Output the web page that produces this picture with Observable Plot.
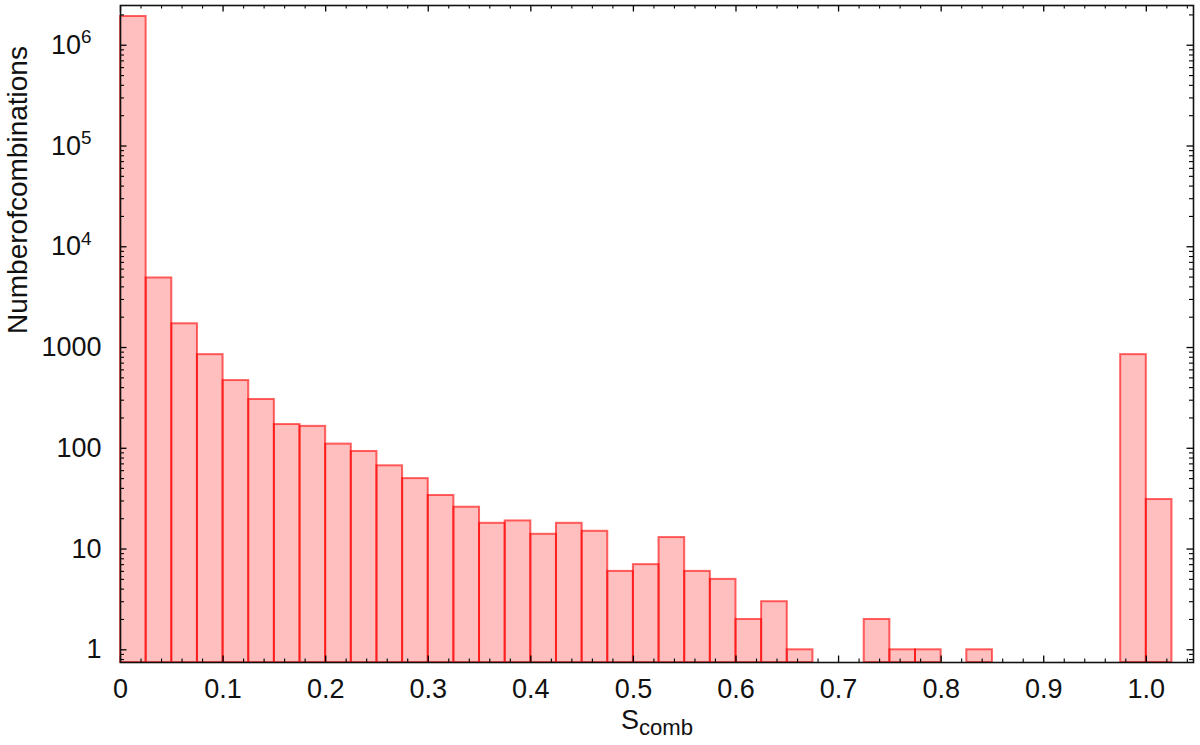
<!DOCTYPE html>
<html><head><meta charset="utf-8">
<script src="https://cdn.jsdelivr.net/npm/d3@7"></script>
<script src="https://cdn.jsdelivr.net/npm/@observablehq/plot@0.6"></script>
<style>
html,body{margin:0;padding:0;background:#fff;}
#chart{width:1200px;height:745px;}
</style></head><body><div id="chart"></div>
<script>
// Histogram bins (lower edges) with non-zero counts
const binStart = [0, 0.025, 0.05, 0.075, 0.1, 0.125, 0.15, 0.175, 0.2, 0.225,
  0.25, 0.275, 0.3, 0.325, 0.35, 0.375, 0.4, 0.425, 0.45, 0.475,
  0.5, 0.525, 0.55, 0.575, 0.6, 0.625, 0.65, 0.725, 0.75, 0.775,
  0.825, 0.975, 1.0];
const counts = [1930000, 4900, 1720, 850, 470, 305, 172, 165, 110, 93,
  67, 50, 34, 26, 18, 19, 14, 18, 15, 6,
  7, 13, 6, 5, 2, 3, 1, 2, 1, 1,
  1, 850, 31];
const binWidth = 0.025;

const xTickValues = [0, 0.1, 0.2, 0.3, 0.4, 0.5, 0.6, 0.7, 0.8, 0.9, 1.0];
const xTickLabels = ["0", "0.1", "0.2", "0.3", "0.4", "0.5", "0.6", "0.7", "0.8", "0.9", "1.0"];
const yTickValues = [1, 10, 100, 1000, 1e4, 1e5, 1e6];
const yTickLabels = ["1", "10", "100", "1000", "10^4", "10^5", "10^6"];
const xTitle = "S_comb";
const yTitle = "Numberofcombinations";

const xDomain = [0, 1.046];
const yDomain = [0.748, 2.48e6];

const W = 1200, H = 745;
const mL = 120, mR = 7, mT = 5, mB = 83;
const FW = W - mL - mR, FH = H - mT - mB;

const bins = binStart.map((s, i) => ({x1: s, x2: s + binWidth, count: counts[i]}));

// minor ticks generated by the scales' own tick generators
const yAll = d3.scaleLog().domain(yDomain).ticks();
const yMinor = yAll.filter(v => !yTickValues.includes(v));
const xMinor = d3.ticks(xDomain[0], xDomain[1], 52).filter(v => !xTickValues.some(t => Math.abs(t - v) < 1e-9));

const fmtX = d => xTickLabels[xTickValues.findIndex(t => Math.abs(t - d) < 1e-9)];
const fmtY = d => yTickLabels[yTickValues.indexOf(d)];

const chart = Plot.plot({
  width: W, height: H,
  marginLeft: mL, marginRight: mR, marginTop: mT, marginBottom: mB,
  style: {fontFamily: "'Liberation Sans', Arial, sans-serif", fontSize: "27px", color: "#111", background: "#fff"},
  x: {domain: xDomain},
  y: {type: "log", domain: yDomain},
  marks: [
    Plot.rect(bins, {x1: "x1", x2: "x2", y1: yDomain[0], y2: "count",
      fill: "#ff0000", fillOpacity: 0.25, stroke: "#ff0000", strokeOpacity: 0.6, strokeWidth: 2}),
    // y ticks (inside), left and right
    Plot.tickY(yTickValues, {y: d => d, insetRight: FW - 6.5, stroke: "#000", strokeWidth: 1.3}),
    Plot.tickY(yTickValues, {y: d => d, insetLeft: FW - 6.5, stroke: "#000", strokeWidth: 1.3}),
    Plot.tickY(yMinor, {y: d => d, insetRight: FW - 4, stroke: "#000", strokeWidth: 1.1}),
    Plot.tickY(yMinor, {y: d => d, insetLeft: FW - 4, stroke: "#000", strokeWidth: 1.1}),
    // x ticks (inside), bottom and top
    Plot.tickX(xTickValues, {x: d => d, insetTop: FH - 6.5, stroke: "#000", strokeWidth: 1.3}),
    Plot.tickX(xTickValues, {x: d => d, insetBottom: FH - 6.5, stroke: "#000", strokeWidth: 1.3}),
    Plot.tickX(xMinor, {x: d => d, insetTop: FH - 3.5, stroke: "#000", strokeWidth: 1.1}),
    Plot.tickX(xMinor, {x: d => d, insetBottom: FH - 3.5, stroke: "#000", strokeWidth: 1.1}),
    Plot.frame({stroke: "#111", strokeWidth: 1.6}),
    // tick labels
    Plot.axisY(yTickValues.slice(0, 4), {tickSize: 0, tickPadding: 19, tickFormat: fmtY, fontSize: 27, label: null, fill: "#111"}),
    Plot.axisY(yTickValues.slice(4), {tickSize: 0, tickPadding: 29, tickFormat: fmtY, fontSize: 27, label: null, fill: "#111"}),
    Plot.axisX(xTickValues, {tickSize: 0, tickPadding: 16, tickFormat: fmtX, fontSize: 27, label: null, fill: "#111"}),
    // axis titles
    Plot.text([yTitle], {text: d => d, frameAnchor: "left", rotate: -90, dx: -102, fontSize: 28, fill: "#111"}),
    Plot.text([xTitle], {text: d => d, frameAnchor: "bottom", dy: 66, fontSize: 27, fill: "#111"})
  ]
});

// superscripts / subscripts
const NS = "http://www.w3.org/2000/svg";
chart.querySelectorAll("text").forEach(t => {
  if (t.querySelector("tspan")) return;
  const s = t.textContent;
  let m = /^10\^(\d)$/.exec(s);
  if (m) {
    t.textContent = "10";
    const ts = document.createElementNS(NS, "tspan");
    ts.setAttribute("dy", "-0.55em");
    ts.setAttribute("font-size", "0.7em");
    ts.textContent = m[1];
    t.appendChild(ts);
    return;
  }
  m = /^(\w+)_(\w+)$/.exec(s);
  if (m) {
    t.textContent = m[1];
    const ts = document.createElementNS(NS, "tspan");
    ts.setAttribute("dy", "0.3em");
    ts.setAttribute("font-size", "0.82em");
    ts.textContent = m[2];
    t.appendChild(ts);
  }
});

document.getElementById("chart").appendChild(chart);
</script>
</body></html>
